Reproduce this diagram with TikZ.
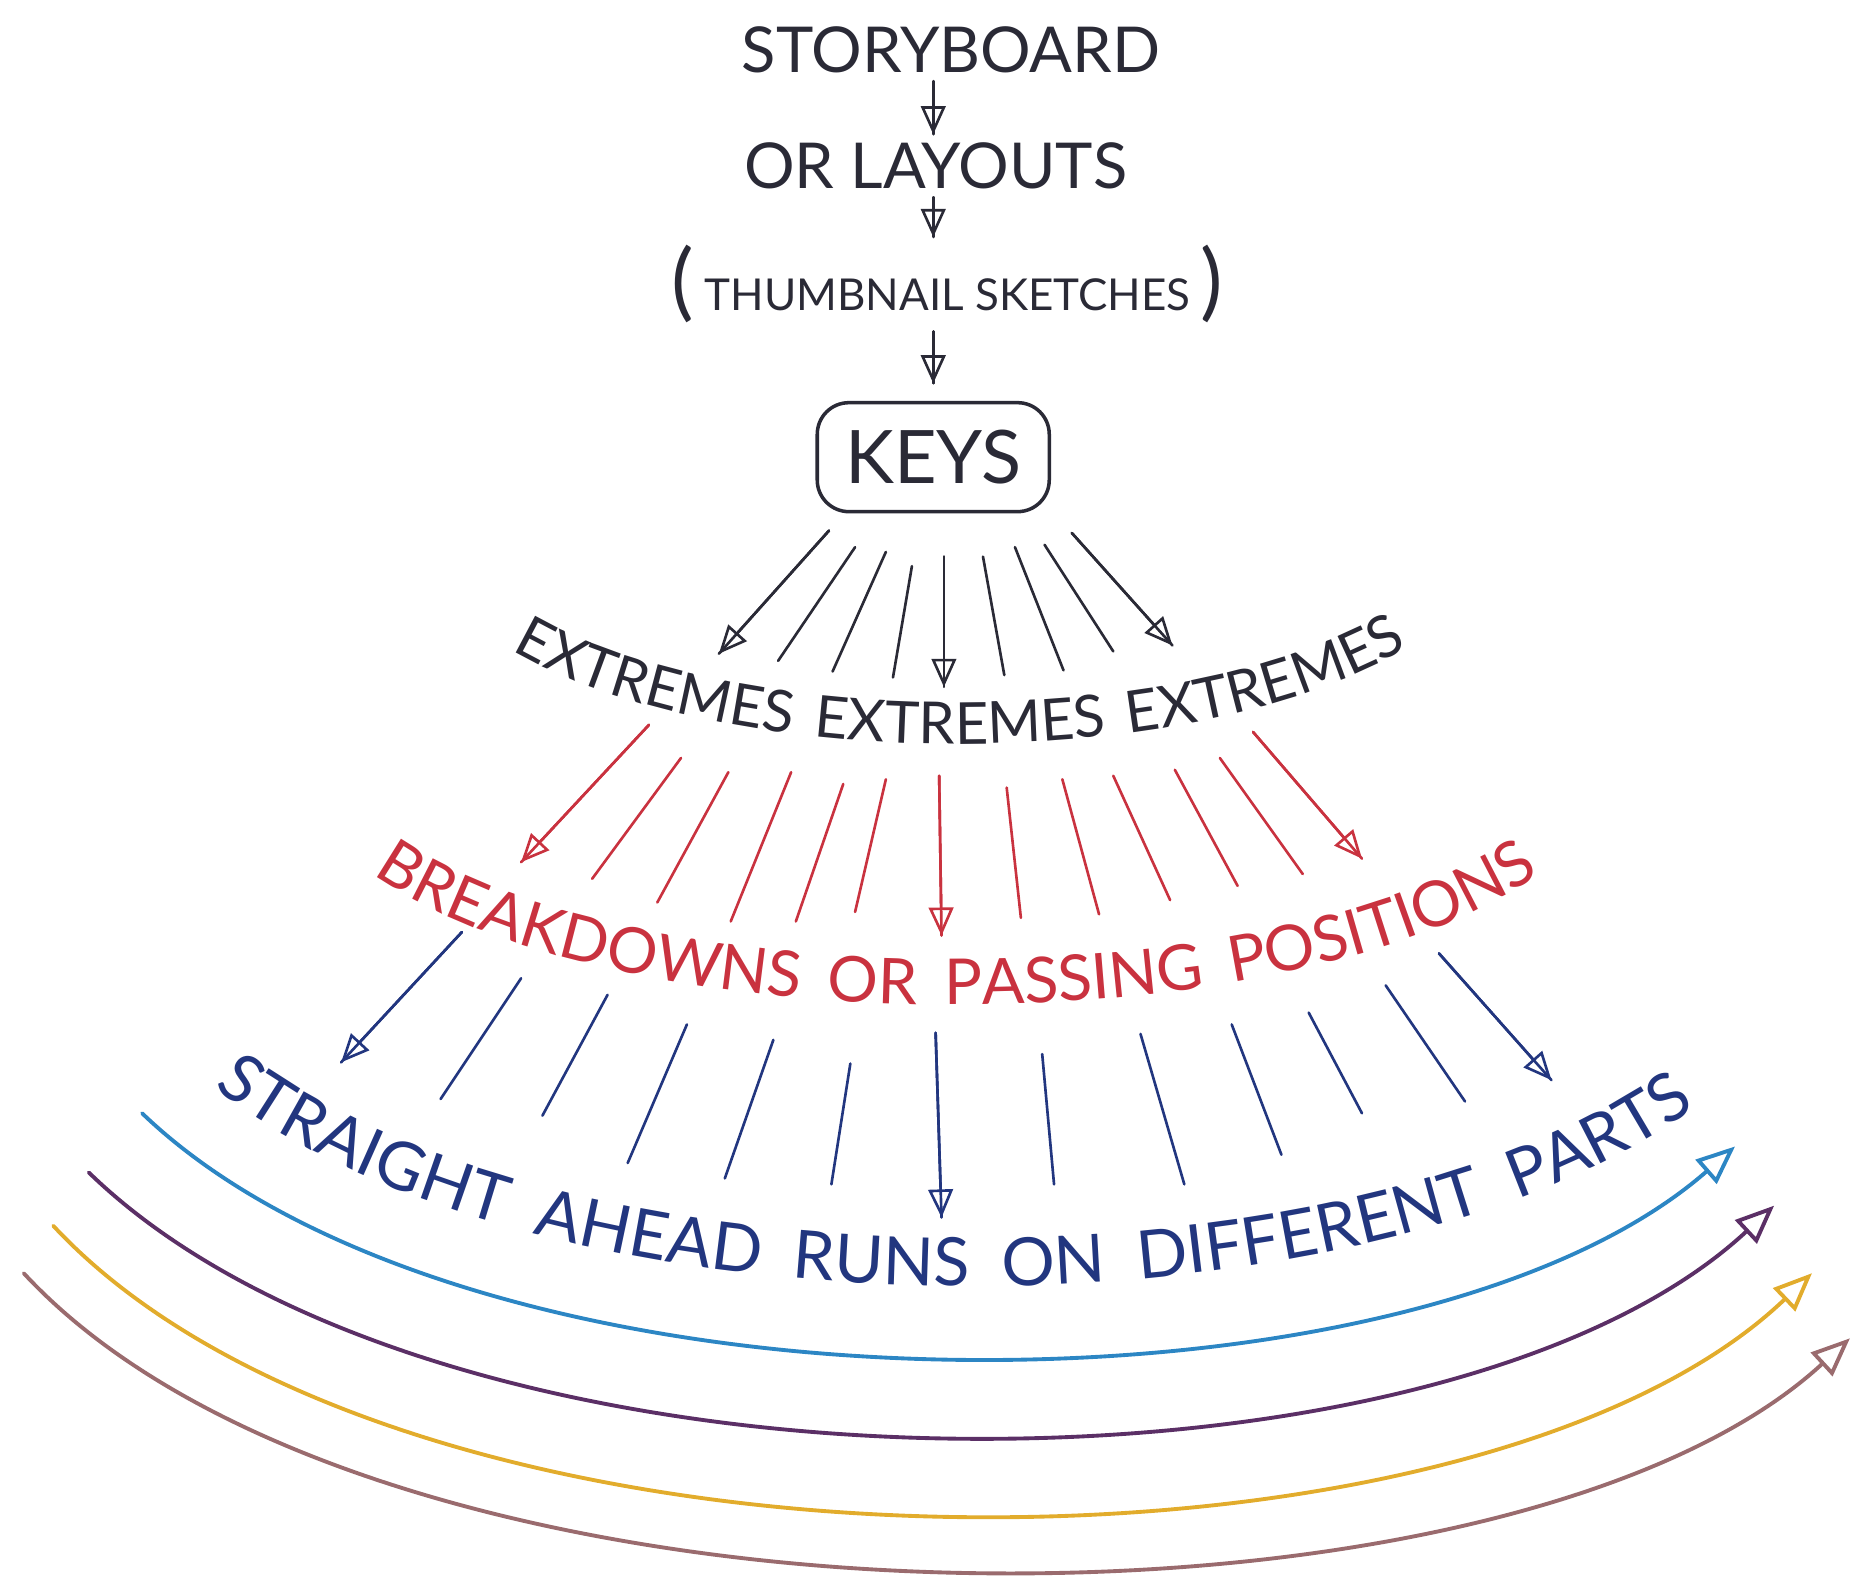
\documentclass[tikz,border=0pt]{standalone}
\usepackage{fontspec}
\setmainfont{Lato}
\usepackage{tikz}
\usetikzlibrary{arrows.meta, decorations.text, positioning, calc}

\definecolor{pencil}{HTML}{2A2A36}
\definecolor{redpencil}{HTML}{C9323F}
\definecolor{bluepencil}{HTML}{22367F}
\definecolor{runblue}{HTML}{2C86C4}
\definecolor{runpurple}{HTML}{5B2F66}
\definecolor{rungold}{HTML}{E2AC2C}
\definecolor{runbrown}{HTML}{9A6B6E}

\tikzset{
  headed/.style={-{Triangle[open,length=8pt,width=7pt]}, postaction={draw,-}},
  bare/.style={},
  stage/.style={inner sep=2pt, text=pencil, font=\fontsize{18}{20}\selectfont},
  runarc/.style={line width=1.1pt, -{Triangle[open,length=11pt,width=9pt]}},
  bend text/.style={decorate, decoration={text along path, text color=#1,
      text align={fit to path stretching spaces}}}
}

\begin{document}
\begin{tikzpicture}[x=0.011843cm, y=0.011843cm, line width=0.75pt, line cap=round]
  \useasboundingbox (0,0) rectangle (1568,-1333);

  % the chain at the top
  \node[stage] (story) at (803,-42) {STORYBOARD};
  \node[stage] (layouts) at (790,-140) {OR LAYOUTS};
  \node[stage, font=\fontsize{12.5}{15}\selectfont] (thumbs) at (800,-240)
    {{\fontsize{24}{26}\selectfont(}\hspace{3pt}THUMBNAIL SKETCHES\hspace{3pt}{\fontsize{24}{26}\selectfont)}};
  \node[stage, draw=pencil, line width=1pt, rounded corners=9pt, minimum width=66pt,
    minimum height=31pt, font=\fontsize{21}{24}\selectfont] (keys) at (788,-386) {KEYS};

  \draw[pencil, headed] (keys |- story.south) -- (keys |- layouts.north);
  \draw[pencil, headed] (keys |- layouts.south) -- (keys |- thumbs.north);
  \draw[pencil, headed, shorten >=5pt] (keys |- thumbs.south) -- (keys.north);

  % keys -> extremes
  \foreach \ax/\ay/\bx/\by/\kind in {700/448/607/552/headed, 722/462/657/558/bare,
      748/466/703/567/bare, 770/478/754/572/bare, 797/470/797/580/headed,
      830/470/848/570/bare, 857/462/898/566/bare, 882/460/940/550/bare,
      905/450/990/545/headed}
    \draw[pencil, \kind] (\ax,-\ay) -- (\bx,-\by);

  \path[bend text=pencil, decoration={text={|\fontsize{16.5}{18}\selectfont|EXTREMES EXTREMES EXTREMES}}]
    (432,-549) .. controls (615,-655) and (1006,-655) .. (1189,-547);

  % extremes -> breakdowns
  \foreach \ax/\ay/\bx/\by/\kind in {548/612/440/728/headed, 575/640/500/742/bare,
      615/652/555/762/bare, 668/652/617/778/bare, 712/662/672/778/bare,
      748/658/722/770/bare, 793/655/795/790/headed, 850/665/862/775/bare,
      897/658/928/772/bare, 940/655/988/760/bare, 992/650/1045/748/bare,
      1030/640/1100/738/bare, 1058/618/1150/725/headed}
    \draw[redpencil, \kind] (\ax,-\ay) -- (\bx,-\by);

  \path[bend text=redpencil, decoration={text={|\fontsize{18}{20}\selectfont|BREAKDOWNS OR PASSING POSITIONS}}]
    (315,-738) .. controls (524,-885) and (1091,-885) .. (1300,-738);

  % breakdowns -> straight ahead
  \foreach \ax/\ay/\bx/\by/\kind in {390/787/288/897/headed, 440/826/372/928/bare,
      513/840/458/942/bare, 580/865/530/982/bare, 653/878/612/995/bare,
      718/898/702/1000/bare, 790/872/795/1028/headed, 880/890/890/1000/bare,
      963/873/1000/1000/bare, 1040/865/1082/975/bare, 1105/855/1150/940/bare,
      1170/832/1237/930/bare, 1215/805/1310/912/headed}
    \draw[bluepencil, \kind] (\ax,-\ay) -- (\bx,-\by);

  \path[bend text=bluepencil, decoration={text={|\fontsize{19}{21}\selectfont|STRAIGHT AHEAD RUNS ON DIFFERENT PARTS}}]
    (180,-918) .. controls (463,-1139) and (1149,-1139) .. (1432,-935);

  % the runs
  \draw[runarc, runblue] (120,-940) .. controls (400,-1209) and (1190,-1209) .. (1465,-968);
  \draw[runarc, runpurple] (75,-990) .. controls (375,-1281) and (1215,-1281) .. (1498,-1018);
  \draw[runarc, rungold] (45,-1035) .. controls (340,-1352) and (1240,-1352) .. (1530,-1075);
  \draw[runarc, runbrown] (20,-1075) .. controls (320,-1399) and (1270,-1399) .. (1562,-1130);
\end{tikzpicture}
\end{document}
